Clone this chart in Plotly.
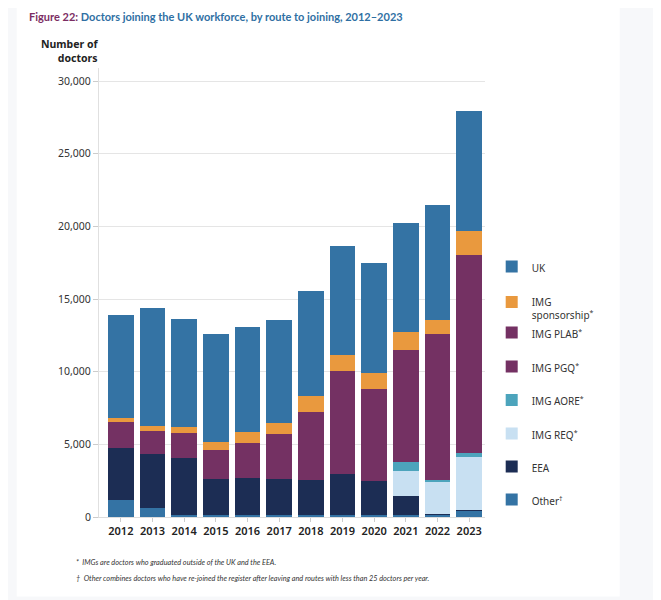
import plotly.graph_objects as go

years = ["2012", "2013", "2014", "2015", "2016", "2017", "2018", "2019", "2020", "2021", "2022", "2023"]

other = [1160, 630, 120, 120, 130, 130, 124, 150, 150, 124, 200, 440]
eea = [3560, 3675, 3930, 2490, 2545, 2475, 2390, 2780, 2300, 1336, 20, 60]
img_req = [0, 0, 0, 0, 0, 0, 0, 0, 0, 1700, 2200, 3600]
img_aore = [0, 0, 0, 0, 0, 0, 0, 0, 0, 620, 160, 275]
img_pgq = [660, 605, 620, 670, 790, 980, 1435, 2100, 1960, 2420, 3090, 4190]
img_plab = [1150, 1000, 1080, 1300, 1620, 2100, 3300, 5000, 4400, 5300, 6900, 9500]
img_sponsorship = [255, 370, 460, 600, 760, 780, 1075, 1150, 1080, 1200, 1010, 1585]
uk = [7100, 8130, 7400, 7440, 7235, 7095, 7260, 7440, 7560, 7510, 7880, 8310]

series = [
    ("Other<sup>†</sup>", other, "#3473a4"),
    ("EEA", eea, "#1c2d54"),
    ("IMG REQ<sup>*</sup>", img_req, "#c8e0f2"),
    ("IMG AORE<sup>*</sup>", img_aore, "#4ca4bc"),
    ("IMG PGQ<sup>*</sup>", img_pgq, "#743163"),
    ("IMG PLAB<sup>*</sup>", img_plab, "#743163"),
    ("IMG<br>sponsorship<sup>*</sup>", img_sponsorship, "#e9993e"),
    ("UK", uk, "#3473a4"),
]

# the page body adds an 8px offset; target positions are screen pixels
OFF = 8
L, R, T, B = 99.3 - OFF, 485.3 - OFF, 68.3 - OFF, 517.5 - OFF
W, H = R - L, B - T


def px(x):
    return (x - OFF - L) / W


def py(y):
    return (B - (y - OFF)) / H


legend_rows = {
    "UK": 268.5,
    "IMG<br>sponsorship<sup>*</sup>": 309,
    "IMG PLAB<sup>*</sup>": 334.5,
    "IMG PGQ<sup>*</sup>": 368.5,
    "IMG AORE<sup>*</sup>": 402,
    "IMG REQ<sup>*</sup>": 435.5,
    "EEA": 468.5,
    "Other<sup>†</sup>": 501.5,
}

fig = go.Figure()
legend_layouts = {}
for i, (name, vals, col) in enumerate(series):
    lname = "legend" if i == 0 else f"legend{i + 1}"
    fig.add_trace(go.Bar(
        x=years, y=vals, name=name, marker=dict(color=col, line=dict(width=0)),
        legend=lname, showlegend=True,
        hovertemplate="%{x}: %{y:,}<extra></extra>",
    ))
    legend_layouts[lname] = dict(
        x=px(492), xanchor="left", y=py(legend_rows[name]), yanchor="middle",
        bgcolor="rgba(0,0,0,0)", valign="top",
        font=dict(family="Noto Sans", size=10, color="#333333"),
    )

fig.update_layout(
    barmode="stack",
    bargap=0.19,
    width=661, height=600,
    margin=dict(l=L, r=661 - R, t=T, b=600 - B),
    paper_bgcolor="#f7f8fa",
    plot_bgcolor="rgba(0,0,0,0)",
    font=dict(family="Noto Sans", size=10.5, color="#333333"),
    **legend_layouts,
    xaxis=dict(
        type="category", range=[-0.69, 11.5],
        showgrid=False, showline=True, linecolor="#dddddd", linewidth=1,
        ticks="outside", ticklen=4, tickcolor="#cccccc",
        tickfont=dict(family="Noto Sans", size=11, color="#222222", weight=600),
    ),
    yaxis=dict(
        range=[0, 30900], tickvals=[0, 5000, 10000, 15000, 20000, 25000, 30000],
        tickformat=",", showgrid=True, gridcolor="#e5e5e5", gridwidth=1,
        showline=True, linecolor="#e0e0e0", linewidth=1,
        ticks="outside", ticklen=5, tickcolor="#cccccc",
        zeroline=False,
        tickfont=dict(family="Noto Sans", size=10.5, color="#333333"),
    ),
    shapes=[dict(
        type="rect", xref="paper", yref="paper", layer="below",
        x0=px(17), x1=px(620), y0=py(597), y1=py(3),
        fillcolor="#ffffff", line=dict(width=0),
    )],
    annotations=[
        dict(
            text="<b><span style='color:#7b2d63'>Figure 22:</span> Doctors joining the UK workforce, by route to joining, 2012–2023</b>",
            xref="paper", yref="paper", x=px(27), y=py(17), xanchor="left", yanchor="middle",
            showarrow=False, font=dict(family="Lato", size=11, color="#2f6fa3"),
        ),
        dict(
            text="<b>Number of<br>doctors</b>", align="right",
            xref="paper", yref="paper", x=px(100.5), y=py(51.5), xanchor="right", yanchor="middle",
            showarrow=False, font=dict(family="Noto Sans", size=10.5, color="#222222"),
        ),
        dict(
            text="<i>*  IMGs are doctors who graduated outside of the UK and the EEA.</i>",
            xref="paper", yref="paper", x=px(74), y=py(563), xanchor="left", yanchor="middle",
            showarrow=False, font=dict(family="Lato", size=7.3, color="#333333"),
        ),
        dict(
            text="<i>†  Other combines doctors who have re-joined the register after leaving and routes with less than 25 doctors per year.</i>",
            xref="paper", yref="paper", x=px(74), y=py(579), xanchor="left", yanchor="middle",
            showarrow=False, font=dict(family="Lato", size=7.3, color="#333333"),
        ),
    ],
)

fig.write_html("out.html")
